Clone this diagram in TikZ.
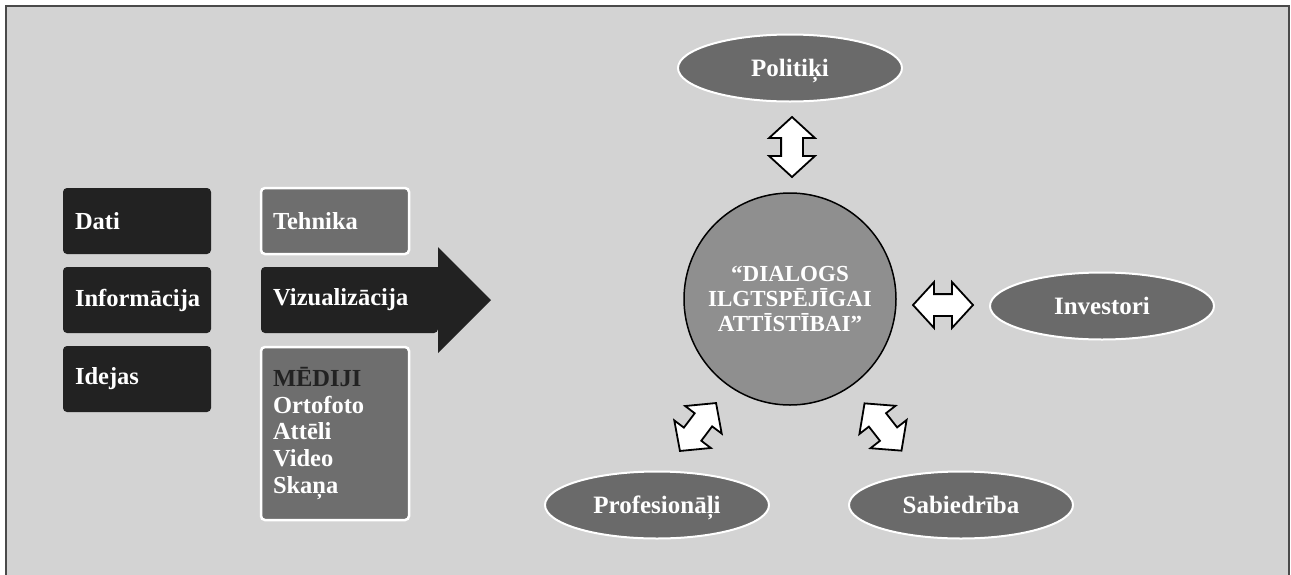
\documentclass[tikz,border=0pt]{standalone}
\usepackage{fontspec}
\setmainfont{Liberation Serif}
\usetikzlibrary{shapes.geometric,shapes.arrows}
\definecolor{bggray}{HTML}{D3D3D3}
\definecolor{framegray}{HTML}{4A4A4A}
\definecolor{darkbox}{HTML}{222222}
\definecolor{midbox}{HTML}{6E6E6E}
\definecolor{ellgray}{HTML}{6A6A6A}
\definecolor{circgray}{HTML}{8F8F8F}
\tikzset{
  boxtext/.style={font=\bfseries\fontsize{24.5}{28}\selectfont, text=white},
  darkrect/.style={boxtext, rectangle, rounded corners=4pt, fill=darkbox,
    minimum height=66pt, text width=124pt, inner xsep=12pt, inner ysep=0pt, align=left},
  greyrect/.style={darkrect, fill=midbox, draw=white, line width=2.5pt},
  actor/.style={ellipse, fill=ellgray, draw=white, line width=2pt,
    minimum width=224pt, minimum height=67pt, inner sep=0pt, text=white,
    text height=17pt, text depth=1pt,
    font=\bfseries\fontsize{25}{28}\selectfont},
  dblarrow/.style={double arrow, draw=black, fill=white, line width=1.8pt,
    minimum height=60pt, minimum width=44pt, inner xsep=0pt, inner ysep=10pt,
    double arrow head extend=12pt, double arrow tip angle=95},
}
\begin{document}
\begin{tikzpicture}[x=1pt,y=-1pt]
\useasboundingbox (0,0) rectangle (1291,574);
% frame
\draw[framegray, line width=2.2pt, fill=bggray] (6,6) rectangle (1289,580);

% left column
\node[darkrect] (dati) at (137,221) {Dati};
\node[darkrect] (info) at (137,300) {Informācija};
\node[darkrect] (idejas) at (137,379) {Idejas};

% middle column
\node[greyrect] (tehnika) at (335,221) {Tehnika};
\fill[darkbox] (438,333) -- (438,353) -- (491,300) -- (438,247) -- (438,267)
  [rounded corners=4pt] -- (261,267) -- (261,333) -- (438,333) -- cycle;
\node[boxtext, anchor=west, inner sep=0pt] (viz) at (273,300) {Vizualizācija};
\node[greyrect, minimum height=173pt,
  font=\bfseries\fontsize{24.5}{26.7}\selectfont] (mediji) at (335,433.5)
  {\textcolor{darkbox}{MĒDIJI}\\Ortofoto\\Attēli\\Video\\Skaņa};

% centre
\node[circle, fill=circgray, draw=black, line width=1.5pt, minimum size=212pt,
  inner sep=0pt, text=white, align=center,
  font=\bfseries\fontsize{23}{25}\selectfont] (dialogs) at (790,299)
  {“DIALOGS\\ILGTSPĒJĪGAI\\ATTĪSTĪBAI”};

% actors
\node[actor] (politiki) at (790,68) {Politiķi};
\node[actor] (investori) at (1102,306) {Investori};
\node[actor] (prof) at (657,505) {Profesionāļi};
\node[actor] (sab) at (961,505) {Sabiedrība};

% double arrows
\node[dblarrow, rotate=90] (a1) at (792,147) {};
\node[dblarrow] (a2) at (943,305) {};
\node[dblarrow, rotate=53] (a3) at (698,427) {};
\node[dblarrow, rotate=-52] (a4) at (883,427) {};
\end{tikzpicture}
\end{document}
